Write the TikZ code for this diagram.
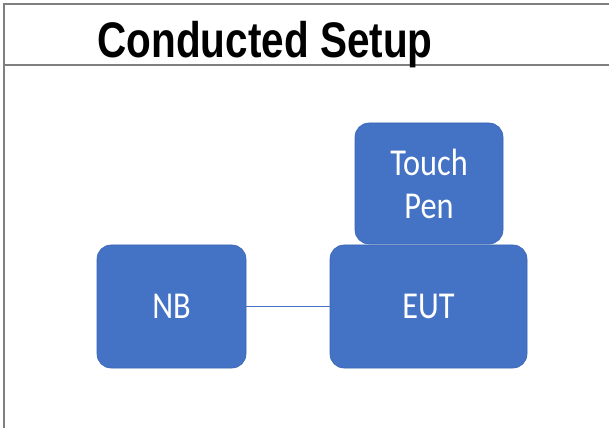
\documentclass[tikz,border=0pt]{standalone}
\usepackage{fontspec}
\setmainfont{Carlito}
\newfontfamily\titlefont{Liberation Sans Bold}
\definecolor{boxblue}{HTML}{4472C4}
\definecolor{boxedge}{HTML}{3A65B4}
\definecolor{framegray}{HTML}{7F7F7F}
\newcommand\sqz[1]{\scalebox{0.85}[1]{#1}}
\begin{document}
\begin{tikzpicture}[x=1pt,y=1pt,
  blockbox/.style={draw=boxedge, line width=0.6pt, fill=boxblue, rounded corners=14pt,
    text=white, inner sep=0pt, align=center,
    font=\fontsize{38}{45}\selectfont},
  frameline/.style={draw=framegray, line width=1.5pt},
  wire/.style={draw=boxblue, line width=0.8pt}]
\useasboundingbox (0,0) rectangle (609,428);
\fill[white] (0,0) rectangle (609,428);
% frame
\coordinate (tl) at (4,424);
\coordinate (tr) at (609,424);
\coordinate (bl) at (4,0);
\coordinate (sl) at (4,363);
\coordinate (sr) at (609,363);
\draw[frameline] (tr) -- (tl) -- (bl);
\draw[frameline] (sl) -- (sr);
% title
\node[anchor=base, inner sep=0pt] (title) at (265,370)
  {\scalebox{0.81}[1]{\titlefont\fontsize{50}{60}\selectfont Conducted Setup}};
% boxes
\node[blockbox, minimum width=149pt, minimum height=123pt] (nb) at (171.5,121.5) {\sqz{NB}};
\node[blockbox, minimum width=197pt, minimum height=123pt] (eut) at (428.5,121.5) {\sqz{EUT}};
\node[blockbox, minimum width=148pt, minimum height=121pt] (pen) at (429,244.5)
  {\sqz{Touch}\\[-2pt]\sqz{Pen}};
% connector
\draw[wire] (nb.east) -- (eut.west);
\end{tikzpicture}
\end{document}
